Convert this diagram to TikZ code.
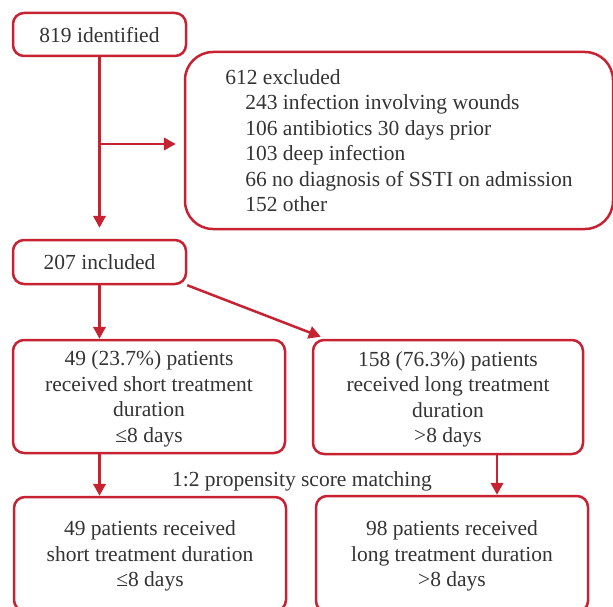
\documentclass[tikz,border=0pt]{standalone}
\usepackage{fontspec}
\setmainfont{Liberation Serif}
\usetikzlibrary{arrows.meta}
\definecolor{cred}{HTML}{C62231}
\definecolor{ctext}{HTML}{333333}
\begin{document}
\begin{tikzpicture}[x=1pt,y=-1pt,
  box/.style={draw=cred, line width=2.5pt, rounded corners=11pt, text=ctext, align=center, inner sep=0pt,
    text depth=0pt, font=\fontsize{21.5}{25.5}\selectfont},
  bigbox/.style={box, rounded corners=28pt, align=left},
  conn/.style={draw=cred, line width=2.5pt, -{Triangle[length=12pt,width=12.5pt]}},
  lbl/.style={text=ctext, font=\fontsize{21.5}{25.5}\selectfont, inner sep=0pt}
]
\path[use as bounding box] (0,0) rectangle (613,607);
\node[box, minimum width=173pt, minimum height=43pt] (ident) at (99.5,34.5) {819 identified};
\node[bigbox, minimum width=428pt, minimum height=177pt] (excl) at (399,140.5) {612 excluded\\
\hspace*{20pt}243 infection involving wounds\\
\hspace*{20pt}106 antibiotics 30 days prior\\
\hspace*{20pt}103 deep infection\\
\hspace*{20pt}66 no diagnosis of SSTI on admission\\
\hspace*{20pt}152 other};
\node[box, minimum width=173pt, minimum height=44pt] (incl) at (99.5,262) {207 included};
\node[box, minimum width=272pt, minimum height=113pt] (short) at (149,396.5) {49 (23.7\%) patients\\received short treatment\\duration\\≤8 days};
\node[box, minimum width=270pt, minimum height=114pt] (long) at (448,397) {158 (76.3\%) patients\\received long treatment\\duration\\>8 days};
\node[box, minimum width=272pt, minimum height=114pt] (mshort) at (150,554) {49 patients received\\short treatment duration\\≤8 days};
\node[box, minimum width=272pt, minimum height=116pt] (mlong) at (452,554) {98 patients received\\long treatment duration\\>8 days};
\node[lbl] (psm) at (302,481) {1:2 propensity score matching};
\coordinate (branch) at (99.5,144);
\draw[conn] (ident.south) -- ([yshift=11pt]incl.north);
\draw[conn] (branch) -- ([xshift=-8pt]excl.west |- branch);
\draw[conn] (incl.south) -- ([xshift=-49.5pt]short.north);
\draw[conn] (incl.south east) -- ([xshift=9pt,yshift=2pt]long.north west);
\draw[conn] ([xshift=-49.5pt]short.south) -- ([xshift=-50.5pt]mshort.north);
\draw[conn] ([xshift=49pt]long.south) -- ([xshift=45pt]mlong.north);
\end{tikzpicture}
\end{document}
